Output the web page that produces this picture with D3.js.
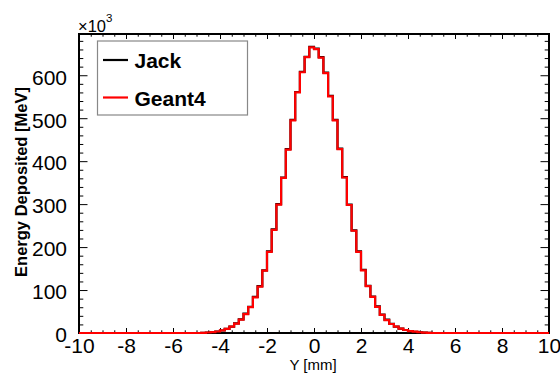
<!DOCTYPE html>
<html>
<head>
<meta charset="utf-8">
<script src="https://cdn.jsdelivr.net/npm/d3@7"></script>
<style>
  html, body { margin: 0; padding: 0; background: #fff; }
  svg { display: block; }
  text { font-family: "Liberation Sans", Arial, Helvetica, sans-serif; }
</style>
</head>
<body>
<svg id="chart" width="560" height="374"></svg>
<script>
// ---------- data (units: 10^3 MeV) ----------
const xMin = -10, xMax = 10, nBins = 100;
const seriesNames = ["Jack", "Geant4"];
const seriesColors = ["#000000", "#ff0000"];

const jackValues = [
  0,0,0,0,0,0,0,0,0,0,
  0,0,0,0,0,0,0,0,0,0,
  0,0,0,0,0,0,0.4,1.0,1.8,3.2,
  5.8,9.5,15,22.5,31.5,45,61,84,109,146,
  190,241,300,362,428,496,561,608,643,666,
  662,642,606,552,496,429,363,299,239,190,
  147,110,85,62,43,31,21.5,15,10,7,
  4.3,2.8,1.6,0.9,0.4,0,0,0,0,0,
  0,0,0,0,0,0,0,0,0,0,
  0,0,0,0,0,0,0,0,0,0
];
const geant4Values = [
  0,0,0,0,0,0,0,0,0,0,
  0,0,0,0,0,0,0,0,0,0,
  0,0,0,0,0,0,0.5,1.2,2.0,3.5,
  6,9.5,15,22,31,44,60,83,108,145,
  189,240,299,361,427,495,560,607,642,665,
  661,641,605,551,495,428,362,298,238,189,
  146,109,84,61,42,30,21,15,10,7,
  4.5,3,1.8,1,0.5,0,0,0,0,0,
  0,0,0,0,0,0,0,0,0,0,
  0,0,0,0,0,0,0,0,0,0
];
const xTickValues = [-10,-8,-6,-4,-2,0,2,4,6,8,10];
const yTickValues = [0,100,200,300,400,500,600];
const yMax = 696;

// ---------- layout ----------
const L = 79, R = 549, T = 34, B = 333;
const svg = d3.select("#chart");
const x = d3.scaleLinear().domain([xMin, xMax]).range([L, R]);
const y = d3.scaleLinear().domain([0, yMax]).range([B, T]);

const binW = (xMax - xMin) / nBins;
const xMinor = d3.range(xMin, xMax + 1e-9, 0.5).filter(v => Math.abs(v/2 - Math.round(v/2)) > 1e-6);
const yMinor = d3.range(0, yMax, 20).filter(v => v % 100 !== 0);
const fmt = v => String(v);   // plain hyphen-minus like ROOT

function styleAxis(g) {
  g.select(".domain").remove();
  g.selectAll(".tick line").attr("stroke", "#000").attr("stroke-width", 1);
  g.selectAll("text").attr("font-size", "21px").attr("fill", "#000");
}

// bottom axis
svg.append("g").attr("transform", `translate(0,${B})`)
  .call(d3.axisBottom(x).tickValues(xTickValues).tickSizeInner(-5).tickSizeOuter(0).tickPadding(5.5).tickFormat(fmt))
  .call(styleAxis);
svg.append("g").attr("transform", `translate(0,${B})`)
  .call(d3.axisBottom(x).tickValues(xMinor).tickSizeInner(-2.7).tickSizeOuter(0).tickFormat(""))
  .call(styleAxis);
// top axis (mirror ticks)
svg.append("g").attr("transform", `translate(0,${T})`)
  .call(d3.axisTop(x).tickValues(xTickValues).tickSizeInner(-5).tickSizeOuter(0).tickFormat(""))
  .call(styleAxis);
svg.append("g").attr("transform", `translate(0,${T})`)
  .call(d3.axisTop(x).tickValues(xMinor).tickSizeInner(-2.7).tickSizeOuter(0).tickFormat(""))
  .call(styleAxis);
// left axis
const yl = svg.append("g").attr("transform", `translate(${L},0)`)
  .call(d3.axisLeft(y).tickValues(yTickValues).tickSizeInner(-8.5).tickSizeOuter(0).tickPadding(12).tickFormat(fmt))
  .call(styleAxis);
yl.selectAll("text").attr("dy", "0.42em");
svg.append("g").attr("transform", `translate(${L},0)`)
  .call(d3.axisLeft(y).tickValues(yMinor).tickSizeInner(-4.3).tickSizeOuter(0).tickFormat(""))
  .call(styleAxis);
// right axis (mirror ticks)
svg.append("g").attr("transform", `translate(${R},0)`)
  .call(d3.axisRight(y).tickValues(yTickValues).tickSizeInner(-8.5).tickSizeOuter(0).tickFormat(""))
  .call(styleAxis);
svg.append("g").attr("transform", `translate(${R},0)`)
  .call(d3.axisRight(y).tickValues(yMinor).tickSizeInner(-4.3).tickSizeOuter(0).tickFormat(""))
  .call(styleAxis);

// frame
svg.append("rect").attr("x", L).attr("y", T).attr("width", R - L).attr("height", B - T)
  .attr("fill", "none").attr("stroke", "#000").attr("stroke-width", 2);

// histograms
const stepLine = d3.line().x(d => x(d[0])).y(d => y(d[1])).curve(d3.curveStepAfter);
[jackValues, geant4Values].forEach((vals, k) => {
  const pts = vals.map((v, i) => [xMin + i * binW, v]);
  pts.push([xMax, vals[vals.length - 1]]);
  svg.append("path").attr("d", stepLine(pts))
    .attr("fill", "none").attr("stroke", seriesColors[k]).attr("stroke-width", 2.2)
    .attr("stroke-linejoin", "miter");
});

// multiplier label ×10^3
const mult = svg.append("text").attr("x", 78).attr("y", 31.5).attr("font-size", "16.5px").attr("fill", "#000");
mult.append("tspan").text("\u00d710");
mult.append("tspan").attr("dy", -10).attr("font-size", "11.5px").text("3");

// axis titles
svg.append("text").attr("x", 313).attr("y", 369.5).attr("text-anchor", "middle")
  .attr("font-size", "15px").attr("fill", "#000").text("Y [mm]");
svg.append("text").attr("transform", "translate(26.5,182) rotate(-90)").attr("text-anchor", "middle")
  .attr("font-size", "16.5px").attr("font-weight", "bold").attr("fill", "#000")
  .text("Energy Deposited [MeV]");

// legend
const lg = svg.append("g");
lg.append("rect").attr("x", 97.5).attr("y", 41).attr("width", 150).attr("height", 74)
  .attr("fill", "#fff").attr("stroke", "#888").attr("stroke-width", 1.2);
const legendY = [60, 97.5];
seriesNames.forEach((name, k) => {
  lg.append("line").attr("x1", 103).attr("x2", 128).attr("y1", legendY[k]).attr("y2", legendY[k])
    .attr("stroke", seriesColors[k]).attr("stroke-width", 2.2);
  lg.append("text").attr("x", 134.5).attr("y", legendY[k] + 8.2)
    .attr("font-size", "21px").attr("font-weight", "bold").attr("fill", "#000").text(name);
});
</script>
</body>
</html>
